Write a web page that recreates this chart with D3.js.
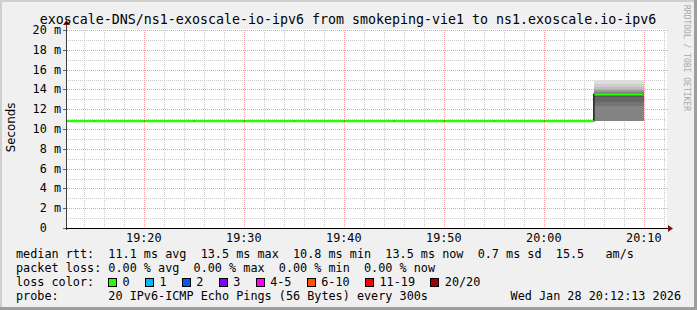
<!DOCTYPE html>
<html>
<head>
<meta charset="utf-8">
<script src="https://d3js.org/d3.v7.min.js"></script>
<style>
  html, body { margin: 0; padding: 0; background: #f0f0f0; }
  svg { display: block; }
  text { font-family: "DejaVu Sans Mono", monospace; white-space: pre; }
</style>
</head>
<body>
<div id="chart"></div>
<script>
// ---- data ----
const title = 'exoscale-DNS/ns1-exoscale-io-ipv6 from smokeping-vie1 to ns1.exoscale.io-ipv6';
const day = '2026-01-28';
const viewStart = '19:12:13';
const viewEnd = '20:12:13';

// 5 minute steps (time = end of step), median rtt in ms, lost pings of 20
const stepTimes = ['19:15', '19:20', '19:25', '19:30', '19:35', '19:40', '19:45',
                   '19:50', '19:55', '20:00', '20:05', '20:10'];
const medianMs = [10.8, 10.8, 10.8, 10.8, 10.8, 10.8, 10.8, 10.8, 10.8, 10.8, 10.8, 13.5];
const lossCount = [0, 0, 0, 0, 0, 0, 0, 0, 0, 0, 0, 0];

// the sorted 20 pings of the step that shows smoke
const smokeTimes = ['20:10'];
const smokePings = [
  [10.8, 10.8, 10.8, 10.8, 10.8, 10.8, 10.8, 12.3, 12.7, 13.2,
   13.5, 13.6, 13.65, 13.7, 13.8, 13.9, 14.0, 14.2, 14.5, 14.9]
];

const yTicks = [0, 2, 4, 6, 8, 10, 12, 14, 16, 18, 20];
const yTickLabels = ['0  ', '2 m', '4 m', '6 m', '8 m', '10 m', '12 m', '14 m', '16 m', '18 m', '20 m'];

const rttStats = ['11.1', '13.5', '10.8', '13.5', '0.7', '15.5'];
const lossStats = ['0.00', '0.00', '0.00', '0.00'];
const lossLabels = ['0', '1', '2', '3', '4-5', '6-10', '11-19', '20/20'];
const lossLimits = [0, 1, 2, 3, 5, 10, 19, 20];
const lossColors = ['#26ff00', '#00b8ff', '#0059ff', '#7e00ff', '#ff00ff', '#ff5500', '#ff0000', '#a10000'];
const probeText = '20 IPv6-ICMP Echo Pings (56 Bytes) every 300s';
const stampText = 'Wed Jan 28 20:12:13 2026';

// ---- layout ----
const width = 697, height = 310;
const plot = { left: 66, right: 666, top: 30, bottom: 228 };

const parse = d3.timeParse('%Y-%m-%d %H:%M:%S');
const t = s => parse(day + ' ' + (s.length === 5 ? s + ':00' : s));

const x = d3.scaleTime()
    .domain([t(viewStart), t(viewEnd)])
    .range([plot.left, plot.right]);
const y = d3.scaleLinear()
    .domain([0, 20])
    .range([plot.bottom, plot.top]);

const svg = d3.select('#chart').append('svg')
    .attr('width', width)
    .attr('height', height);

// background and shaded frame
svg.append('rect').attr('width', width).attr('height', height).attr('fill', '#f0f0f0');
svg.append('rect').attr('x', 0).attr('y', 0).attr('width', width).attr('height', 2).attr('fill', '#cfcfcf');
svg.append('rect').attr('x', 0).attr('y', 0).attr('width', 2).attr('height', height).attr('fill', '#cfcfcf');
svg.append('rect').attr('x', 0).attr('y', height - 3).attr('width', width).attr('height', 3).attr('fill', '#9e9e9e');
svg.append('rect').attr('x', width - 3).attr('y', 0).attr('width', 3).attr('height', height).attr('fill', '#9e9e9e');

// canvas
svg.append('rect')
    .attr('x', plot.left).attr('y', plot.top - 1)
    .attr('width', plot.right - plot.left + 1).attr('height', plot.bottom - plot.top + 1)
    .attr('fill', '#ffffff');

// grid
const grid = svg.append('g').attr('shape-rendering', 'crispEdges');
const minorY = d3.range(1, 21).filter(v => v % 2 !== 0);
grid.selectAll('.hmin').data(minorY).enter().append('line')
    .attr('x1', plot.left).attr('x2', plot.right)
    .attr('y1', d => Math.round(y(d)) + 0.5).attr('y2', d => Math.round(y(d)) + 0.5)
    .attr('stroke', '#c8c8c8').attr('stroke-dasharray', '1,1');
const minorX = x.ticks(d3.timeMinute.every(2)).filter(d => d.getMinutes() % 10 !== 0);
grid.selectAll('.vmin').data(minorX).enter().append('line')
    .attr('x1', d => Math.round(x(d)) + 0.5).attr('x2', d => Math.round(x(d)) + 0.5)
    .attr('y1', plot.top).attr('y2', plot.bottom)
    .attr('stroke', '#c8c8c8').attr('stroke-dasharray', '1,1');
grid.selectAll('.hmaj').data(yTicks.slice(1)).enter().append('line')
    .attr('x1', plot.left - 3).attr('x2', plot.right + 2)
    .attr('y1', d => Math.round(y(d)) + 0.5).attr('y2', d => Math.round(y(d)) + 0.5)
    .attr('stroke', '#f0a0a0').attr('stroke-dasharray', '1,1');
const majorX = x.ticks(d3.timeMinute.every(10));
grid.selectAll('.vmaj').data(majorX).enter().append('line')
    .attr('x1', d => Math.round(x(d)) + 0.5).attr('x2', d => Math.round(x(d)) + 0.5)
    .attr('y1', plot.top).attr('y2', plot.bottom + 2)
    .attr('stroke', '#f0a0a0').attr('stroke-dasharray', '1,1');

// clip for data
svg.append('clipPath').attr('id', 'plotclip')
    .append('rect')
    .attr('x', plot.left + 1).attr('y', plot.top - 1)
    .attr('width', plot.right - plot.left).attr('height', plot.bottom - plot.top + 1);
const data = svg.append('g').attr('clip-path', 'url(#plotclip)');

// smoke: pairs of pings, lighter outside, darker inside
const half = 10;
smokeTimes.forEach((s, k) => {
  const end = t(s);
  const start = d3.timeMinute.offset(end, -5);
  const p = smokePings[k];
  const layers = d3.range(half).map(i => ({ lo: p[i], hi: p[p.length - 1 - i], i }));
  data.selectAll(null).data(layers).enter().append('rect')
      .attr('x', x(start)).attr('width', x(end) - x(start))
      .attr('y', d => y(d.hi)).attr('height', d => y(d.lo) - y(d.hi))
      .attr('fill', d => { const g = Math.round(221 - d.i * 15); return d3.rgb(g, g, g); })
      .attr('shape-rendering', 'crispEdges');
});

// median: thin dark step line, then loss coloured segments
const steps = stepTimes.map((s, i) => ({
  end: t(s),
  start: d3.timeMinute.offset(t(s), -5),
  v: medianMs[i],
  loss: lossCount[i]
}));
const stepPts = steps.map(d => [d.start, d.v]).concat([[steps[steps.length - 1].end, steps[steps.length - 1].v]]);
data.append('path')
    .attr('d', d3.line().x(d => x(d[0])).y(d => y(d[1])).curve(d3.curveStepAfter)(stepPts))
    .attr('fill', 'none').attr('stroke', '#202020').attr('stroke-width', 1.5);
const lossColor = n => lossColors[lossLimits.findIndex(l => n <= l)];
data.selectAll('.med').data(steps).enter().append('line')
    .attr('x1', d => x(d.start) + 0.5).attr('x2', d => x(d.end))
    .attr('y1', d => y(d.v)).attr('y2', d => y(d.v))
    .attr('stroke', d => lossColor(d.loss)).attr('stroke-width', 2.2);

// axes
const axis = svg.append('g').attr('shape-rendering', 'crispEdges');
axis.append('line')
    .attr('x1', plot.left + 0.5).attr('x2', plot.left + 0.5)
    .attr('y1', plot.bottom + 2).attr('y2', plot.top - 6)
    .attr('stroke', '#404040');
axis.append('line')
    .attr('x1', plot.left - 3).attr('x2', plot.right + 3)
    .attr('y1', plot.bottom + 0.5).attr('y2', plot.bottom + 0.5)
    .attr('stroke', '#000000');
axis.selectAll('.ytick').data(yTicks).enter().append('line')
    .attr('x1', plot.left - 3).attr('x2', plot.left)
    .attr('y1', d => Math.round(y(d)) + 0.5).attr('y2', d => Math.round(y(d)) + 0.5)
    .attr('stroke', '#606060');
svg.append('path')
    .attr('d', `M${plot.left - 3},${plot.top - 5}L${plot.left + 4},${plot.top - 5}L${plot.left + 0.5},${plot.top - 10}Z`)
    .attr('fill', '#7f1010');
svg.append('path')
    .attr('d', `M${plot.right + 2},${plot.bottom - 3}L${plot.right + 2},${plot.bottom + 4}L${plot.right + 7},${plot.bottom + 0.5}Z`)
    .attr('fill', '#7f1010');

// tick labels
svg.selectAll('.ylab').data(yTicks).enter().append('text')
    .attr('x', plot.left - 5).attr('y', d => y(d) + 4)
    .attr('text-anchor', 'end')
    .style('font-size', '11.8px')
    .text((d, i) => yTickLabels[i]);
svg.selectAll('.xlab').data(majorX).enter().append('text')
    .attr('x', d => x(d)).attr('y', plot.bottom + 14)
    .attr('text-anchor', 'middle')
    .style('font-size', '11.8px')
    .text(d3.timeFormat('%H:%M'));

// title, y label, watermark
svg.append('text')
    .attr('x', 348).attr('y', 23.5)
    .attr('text-anchor', 'middle')
    .style('font-size', '13.3px')
    .text(title);
svg.append('text')
    .attr('transform', 'translate(15,127.5) rotate(-90)')
    .attr('text-anchor', 'middle')
    .style('font-size', '11.8px')
    .style('font-family', '"DejaVu Sans", sans-serif')
    .text('Seconds');
svg.append('text')
    .attr('transform', 'translate(684,5) rotate(90)')
    .style('font-size', '8px')
    .attr('fill', '#a8a8a8')
    .text('RRDTOOL / TOBI OETIKER');

// legend
const lx = 16, rows = [257.5, 271.5, 285.5, 299.5];
const leg = svg.append('g').style('font-size', '11.8px');
leg.append('text').attr('x', lx).attr('y', rows[0])
    .text(`median rtt:  ${rttStats[0]} ms avg  ${rttStats[1]} ms max  ${rttStats[2]} ms min  ${rttStats[3]} ms now  ${rttStats[4]} ms sd  ${rttStats[5]}   am/s`);
leg.append('text').attr('x', lx).attr('y', rows[1])
    .text(`packet loss: ${lossStats[0]} % avg  ${lossStats[1]} % max  ${lossStats[2]} % min  ${lossStats[3]} % now`);
leg.append('text').attr('x', lx).attr('y', rows[2]).text('loss color:');
let bx = 108;
lossLabels.forEach((lab, i) => {
  leg.append('rect')
      .attr('x', bx + 0.5).attr('y', rows[2] - 7.5)
      .attr('width', 8).attr('height', 8)
      .attr('fill', lossColors[i]).attr('stroke', '#000000')
      .attr('shape-rendering', 'crispEdges');
  const tx = leg.append('text').attr('x', bx + 14.5).attr('y', rows[2]).text(lab);
  bx = bx + 14.5 + tx.node().getComputedTextLength() + 15.3;
});
leg.append('text').attr('x', lx).attr('y', rows[3]).text('probe:       ' + probeText);
leg.append('text').attr('x', 681).attr('y', rows[3]).attr('text-anchor', 'end').text(stampText);
</script>
</body>
</html>
